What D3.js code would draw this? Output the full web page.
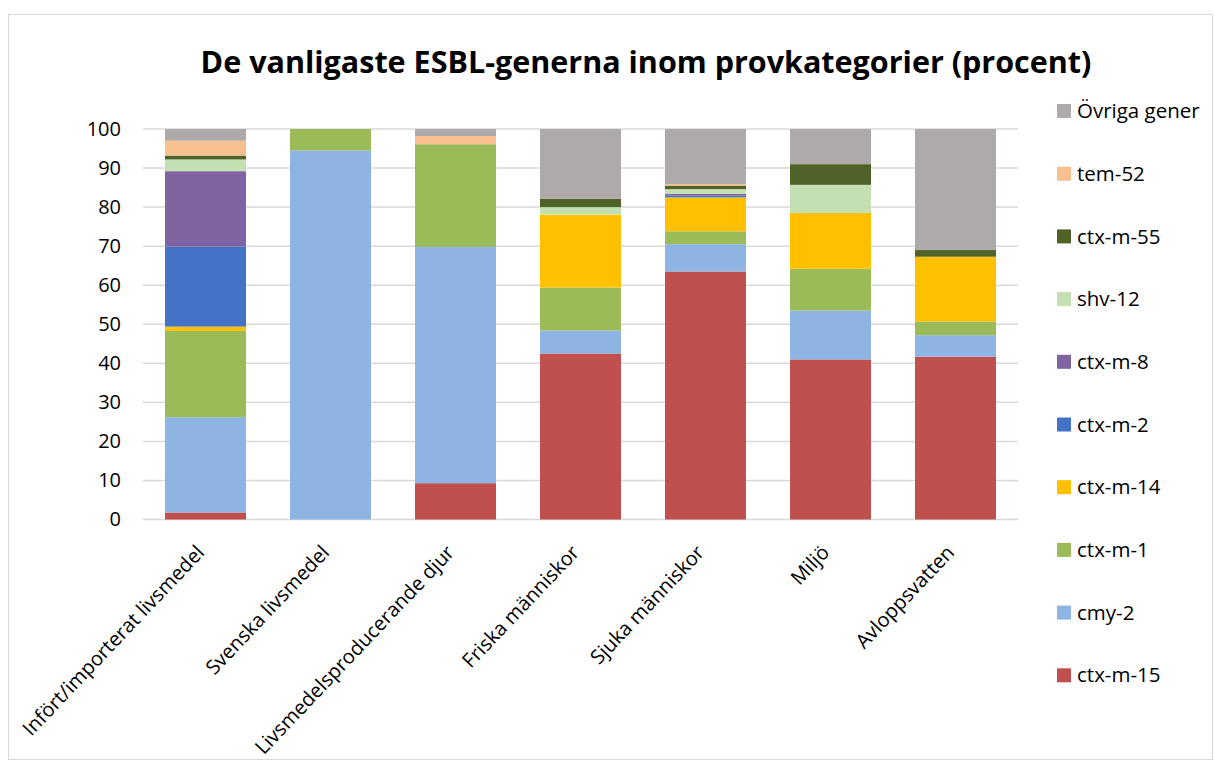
<!DOCTYPE html>
<html>
<head>
<meta charset="utf-8">
<script src="https://cdn.jsdelivr.net/npm/d3@7/dist/d3.min.js"></script>
<style>
  body { margin: 0; background: #fff; }
  svg { font-family: "Open Sans", "Noto Sans", sans-serif; }
</style>
</head>
<body>
<div id="chart"></div>
<script>
// Categories (x axis)
const categories = [
    "Infört/importerat livsmedel",
    "Svenska livsmedel",
    "Livsmedelsproducerande djur",
    "Friska människor",
    "Sjuka människor",
    "Miljö",
    "Avloppsvatten"
];

// Percent per gene, one value per category
const ctxM15 = [1.8, 0.0, 9.3, 42.5, 63.5, 41.0, 41.7];
const cmy2 = [24.4, 94.5, 60.5, 5.9, 7.0, 12.5, 5.5];
const ctxM1 = [22.1, 5.5, 26.3, 11.0, 3.3, 10.7, 3.5];
const ctxM14 = [1.1, 0.0, 0.0, 18.7, 8.7, 14.3, 16.6];
const ctxM2 = [20.5, 0.0, 0.0, 0.0, 0.5, 0.0, 0.0];
const ctxM8 = [19.3, 0.0, 0.0, 0.0, 0.4, 0.0, 0.0];
const shv12 = [3.0, 0.0, 0.0, 1.9, 1.2, 7.2, 0.0];
const ctxM55 = [1.0, 0.0, 0.0, 2.1, 0.9, 5.3, 1.7];
const tem52 = [3.8, 0.0, 2.1, 0.0, 0.4, 0.0, 0.0];
const ovriga = [3.0, 0.0, 1.8, 17.9, 14.1, 9.0, 31.0];

// Series in stacking order (bottom to top)
const seriesNames = ["ctx-m-15", "cmy-2", "ctx-m-1", "ctx-m-14", "ctx-m-2", "ctx-m-8", "shv-12", "ctx-m-55", "tem-52", "Övriga gener"];
const seriesValues = [ctxM15, cmy2, ctxM1, ctxM14, ctxM2, ctxM8, shv12, ctxM55, tem52, ovriga];
const seriesColors = ["#C0504D", "#8EB4E3", "#9BBB59", "#FFC000", "#4472C4", "#8064A2", "#C4E0B3", "#4F6228", "#F9C08F", "#AEAAAA"];

const yTicks = [0, 10, 20, 30, 40, 50, 60, 70, 80, 90, 100];

const W = 1215, H = 762;
const margin = { top: 129, right: 197, bottom: 242.5, left: 143 };
const width = W - margin.left - margin.right;
const height = H - margin.top - margin.bottom;

// Build table rows for d3.stack
const rows = categories.map((c, i) => {
    const r = { category: c };
    seriesNames.forEach((s, j) => { r[s] = seriesValues[j][i]; });
    return r;
});
const stacked = d3.stack().keys(seriesNames)(rows);

const svg = d3.select("#chart")
    .append("svg")
    .attr("width", W)
    .attr("height", H);

// Chart area border
svg.append("rect")
    .attr("x", 8.5)
    .attr("y", 14.5)
    .attr("width", 1204)
    .attr("height", 745)
    .attr("fill", "none")
    .attr("stroke", "#D9D9D9")
    .attr("stroke-width", 1);

// Title
svg.append("text")
    .attr("x", 646)
    .attr("y", 73)
    .attr("text-anchor", "middle")
    .style("font-size", "30.5px")
    .style("font-weight", "bold")
    .attr("fill", "#000")
    .text("De vanligaste ESBL-generna inom provkategorier (procent)");

const g = svg.append("g")
    .attr("transform", `translate(${margin.left},${margin.top})`);

const x = d3.scaleBand()
    .domain(categories)
    .range([0, width])
    .paddingInner(0.352)
    .paddingOuter(0.176);

const y = d3.scaleLinear()
    .domain([0, 100])
    .range([height, 0]);

// Gridlines
g.append("g")
    .selectAll("line")
    .data(yTicks)
    .join("line")
    .attr("x1", 0)
    .attr("x2", width)
    .attr("y1", d => y(d))
    .attr("y2", d => y(d))
    .attr("stroke", "#D9D9D9")
    .attr("stroke-width", 1.5);

// Y axis labels
const yAxis = g.append("g")
    .call(d3.axisLeft(y).tickValues(yTicks).tickSize(0).tickPadding(22));
yAxis.select(".domain").remove();
yAxis.selectAll("text")
    .style("font-size", "20px")
    .style("font-family", "'Open Sans', sans-serif")
    .attr("fill", "#000");

// Stacked bars
g.selectAll(".series")
    .data(stacked)
    .join("g")
    .attr("class", "series")
    .attr("fill", (d, i) => seriesColors[i])
    .selectAll("rect")
    .data(d => d.filter(p => p[1] - p[0] > 0))
    .join("rect")
    .attr("x", d => x(d.data.category))
    .attr("y", d => y(d[1]))
    .attr("width", x.bandwidth())
    .attr("height", d => y(d[0]) - y(d[1]));

// X axis labels, rotated
const xAxis = g.append("g")
    .attr("transform", `translate(0,${height})`)
    .call(d3.axisBottom(x).tickSize(0).tickPadding(0));
xAxis.select(".domain").remove();
xAxis.selectAll("text")
    .style("font-size", "20px")
    .style("font-family", "'Open Sans', sans-serif")
    .attr("fill", "#000")
    .attr("text-anchor", "end")
    .attr("dy", "0")
    .attr("transform", "translate(0,34) rotate(-46.5)");

// Legend (top to bottom: Övriga gener ... ctx-m-15)
const legendItems = seriesNames.map((s, i) => ({ name: s, color: seriesColors[i] })).reverse();
const legend = svg.append("g")
    .attr("transform", "translate(1057,111)");
const li = legend.selectAll("g")
    .data(legendItems)
    .join("g")
    .attr("transform", (d, i) => `translate(0,${i * 62.7})`);
li.append("rect")
    .attr("x", 0)
    .attr("y", -7)
    .attr("width", 14)
    .attr("height", 14)
    .attr("fill", d => d.color);
li.append("text")
    .attr("x", 20)
    .attr("y", 0)
    .attr("dy", "0.35em")
    .style("font-size", "20.5px")
    .attr("fill", "#000")
    .text(d => d.name);
</script>
</body>
</html>
